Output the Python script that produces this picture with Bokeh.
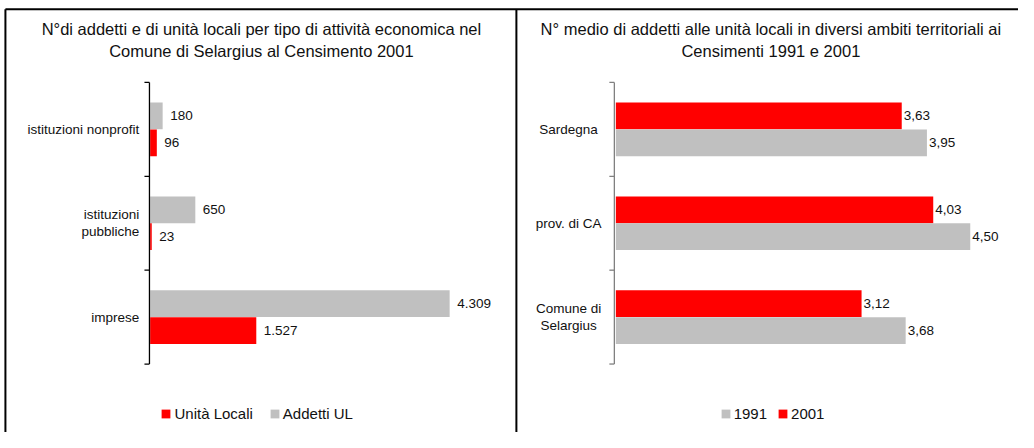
from bokeh.plotting import figure
from bokeh.models import ColumnDataSource, Legend, LegendItem, Range1d
from bokeh.embed import file_html
from bokeh.resources import INLINE
from bokeh.core.properties import value

FONT = "Liberation Sans"
RED = "#ff0000"
GRAY = "#c0c0c0"
TXT = "#111111"

# ---------------- data: left chart ----------------
left_title = ["N°di addetti e di unità locali per tipo di attività economica nel",
              "Comune di Selargius al Censimento 2001"]
left_categories = ["istituzioni nonprofit", "istituzioni pubbliche", "imprese"]
left_category_labels = ["istituzioni nonprofit", "istituzioni\npubbliche", "imprese"]
left_series = ["Unità Locali", "Addetti UL"]
unita_locali = [96, 23, 1527]
addetti_ul = [180, 650, 4309]
left_x_max = 5000

# ---------------- data: right chart ----------------
right_title = ["N° medio di addetti alle unità locali in diversi ambiti territoriali ai",
               "Censimenti 1991 e 2001"]
right_categories = ["Sardegna", "prov. di CA", "Comune di Selargius"]
right_category_labels = ["Sardegna", "prov. di CA", "Comune di\nSelargius"]
right_series = ["1991", "2001"]
media_1991 = [3.95, 4.50, 3.68]
media_2001 = [3.63, 4.03, 3.12]
right_x_max = 5


def fmt_int(v):
    return f"{v:,}".replace(",", ".")


def fmt_dec(v):
    return f"{v:.2f}".replace(".", ",")


# ---------------- layout (page geometry) ----------------
W, H = 1018, 432
SX, SY = W / 1034, H / 448


def X(r):
    return r * SX


def Y(r):
    return r * SY


p = figure(width=W, height=H, x_range=Range1d(0, W), y_range=Range1d(H, 0),
           output_backend="svg", toolbar_location=None, title_location=None,
           x_axis_location=None, y_axis_location=None, min_border=0)
p.min_border_left = p.min_border_right = p.min_border_top = p.min_border_bottom = 0
p.outline_line_color = None
p.background_fill_color = "white"
p.border_fill_color = "white"
p.xgrid.visible = False
p.ygrid.visible = False
p.grid.grid_line_color = None

n = len(left_categories)
band_top, band_bot = Y(85), Y(377)
ppu = (band_bot - band_top) / n
p.extra_y_ranges = {"cat": Range1d(-(H - band_bot) / ppu, n + band_top / ppu)}


def value_range(zero_px, full_px, vmax):
    ppx = (full_px - zero_px) / vmax
    return Range1d(-zero_px / ppx, (W - zero_px) / ppx)


p.extra_x_ranges = {"lx": value_range(X(152), X(505), left_x_max),
                    "rx": value_range(X(625), X(1025), right_x_max)}

# frame lines
p.segment(x0=[X(5), X(5), X(524)], y0=[Y(9), Y(9), Y(9)],
          x1=[W, X(5), X(524)], y1=[Y(9), H, H], line_color="black", line_width=2)

BAR_H = 0.285
OFF = 0.143


def panel(xr, axis_x, axis_color, cat_labels, lab_x, lab_align,
          top_vals, top_color, bot_vals, bot_color, fmt, gap,
          title_lines, title_x, legend_specs, legend_x, legend_spacing):
    centers = [n - 1 - i + 0.5 for i in range(n)]
    src = ColumnDataSource(dict(
        y_top=[c + OFF for c in centers], y_bot=[c - OFF for c in centers],
        top=top_vals, bot=bot_vals,
        top_lbl=[fmt(v) for v in top_vals], bot_lbl=[fmt(v) for v in bot_vals]))
    r_top = p.hbar(y="y_top", right="top", left=0, height=BAR_H, source=src,
                   x_range_name=xr, y_range_name="cat",
                   fill_color=top_color, line_color=None)
    r_bot = p.hbar(y="y_bot", right="bot", left=0, height=BAR_H, source=src,
                   x_range_name=xr, y_range_name="cat",
                   fill_color=bot_color, line_color=None)
    for ycol, xcol, tcol in (("y_top", "top", "top_lbl"), ("y_bot", "bot", "bot_lbl")):
        p.text(x=xcol, y=ycol, text=tcol, source=src, x_offset=gap,
               x_range_name=xr, y_range_name="cat",
               text_align="left", text_baseline="middle",
               text_font=value(FONT), text_font_size="13.5px", text_color=TXT)

    # category axis: line + boundary ticks + labels
    bounds = list(range(n + 1))
    p.segment(x0=[axis_x], y0=[0], x1=[axis_x], y1=[n], y_range_name="cat",
              line_color=axis_color, line_width=1.3)
    p.segment(x0=[axis_x - 5] * len(bounds), y0=bounds, x1=[axis_x] * len(bounds), y1=bounds,
              y_range_name="cat", line_color=axis_color, line_width=1.3)
    p.text(x=[lab_x] * n, y=centers, text=cat_labels, y_range_name="cat",
           text_align=lab_align, text_baseline="middle", text_line_height=1.15,
           text_font=value(FONT), text_font_size="13.5px", text_color=TXT)

    # title
    p.text(x=[title_x] * len(title_lines), y=[Y(30), Y(52)], text=title_lines,
           text_align="center", text_baseline="middle",
           text_font=value(FONT), text_font_size="16.5px", text_color=TXT)

    rends = {"top": r_top, "bot": r_bot}
    items = [LegendItem(label=lab, renderers=[rends[key]]) for lab, key in legend_specs]
    leg = Legend(items=items, location=(legend_x, H - Y(437.5)), orientation="horizontal",
                 glyph_width=11, glyph_height=11, label_height=11, label_standoff=3,
                 spacing=legend_spacing, padding=0, margin=0, border_line_color=None,
                 background_fill_alpha=0, label_text_font=FONT,
                 label_text_font_size="15px", label_text_color=TXT)
    p.add_layout(leg)


panel("lx", X(151.3), "#000000", left_category_labels, X(141), "right",
      addetti_ul, GRAY, unita_locali, RED, fmt_int, 7.5,
      left_title, X(265), [(left_series[0], "bot"), (left_series[1], "top")], X(163), 16)

panel("rx", X(623.5), "#808080", right_category_labels, X(577), "center",
      media_2001, RED, media_1991, GRAY, fmt_dec, 2,
      right_title, X(782.5), [(right_series[0], "bot"), (right_series[1], "top")], X(731), 10)

open("out.html", "w").write(file_html(p, INLINE))
